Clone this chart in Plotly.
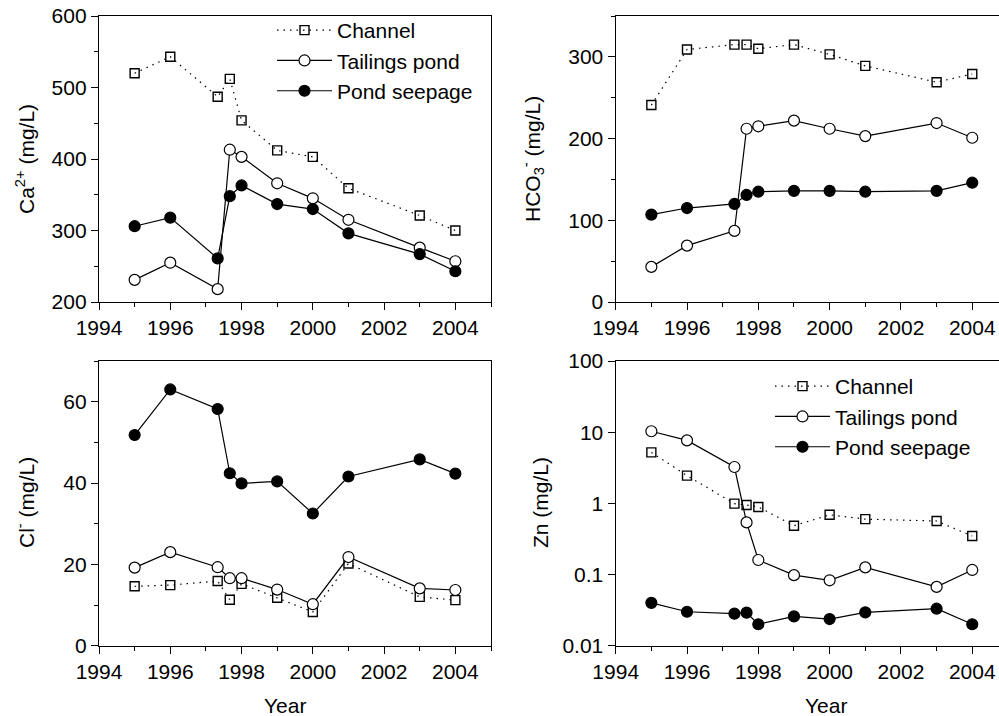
import plotly.graph_objects as go

years = [1995, 1996, 1997.33, 1997.67, 1998, 1999, 2000, 2001, 2003, 2004]

ca_channel = [520, 543, 487, 512, 454, 412, 403, 359, 321, 300]
ca_tailings = [231, 255, 218, 413, 403, 366, 345, 315, 276, 257]
ca_seepage = [306, 318, 261, 348, 363, 337, 330, 296, 267, 243]

hco3_channel = [241, 309, 315, 315, 310, 315, 303, 289, 269, 279]
hco3_tailings = [43, 69, 87, 212, 215, 222, 212, 203, 219, 201]
hco3_seepage = [107, 115, 120, 131, 135, 136, 136, 135, 136, 146]

cl_channel = [14.6, 14.9, 15.9, 11.3, 15.2, 11.8, 8.3, 20.2, 12.0, 11.2]
cl_tailings = [19.2, 23.0, 19.3, 16.6, 16.6, 13.8, 10.2, 21.8, 14.1, 13.7]
cl_seepage = [51.8, 63.0, 58.2, 42.4, 39.9, 40.4, 32.5, 41.6, 45.8, 42.3]

zn_channel = [5.2, 2.45, 0.99, 0.95, 0.89, 0.485, 0.69, 0.60, 0.565, 0.347]
zn_tailings = [10.3, 7.67, 3.24, 0.54, 0.16, 0.098, 0.083, 0.126, 0.067, 0.116]
zn_seepage = [0.040, 0.030, 0.0282, 0.0291, 0.020, 0.0258, 0.0237, 0.0294, 0.0331, 0.020]

series_names = ["Channel", "Tailings pond", "Pond seepage"]
year_ticks = [1994, 1996, 1998, 2000, 2002, 2004]
zn_ticks = [0.01, 0.1, 1, 10, 100]
zn_ticktext = ["0.01", "0.1", "1", "10", "100"]

FONT = "Arial, Liberation Sans, sans-serif"
FS = 21

fig = go.Figure()

panels = [
    ("x", "y", [ca_channel, ca_tailings, ca_seepage], "legend", True),
    ("x2", "y2", [hco3_channel, hco3_tailings, hco3_seepage], None, False),
    ("x3", "y3", [cl_channel, cl_tailings, cl_seepage], None, False),
    ("x4", "y4", [zn_channel, zn_tailings, zn_seepage], "legend2", True),
]

styles = [
    dict(line=dict(color="black", width=1.2, dash="1.5px,5px"),
         marker=dict(symbol="square-open", size=9, color="black", line=dict(width=1.4))),
    dict(line=dict(color="black", width=1.2),
         marker=dict(symbol="circle", size=11, color="white", line=dict(color="black", width=1.2))),
    dict(line=dict(color="black", width=1.2),
         marker=dict(symbol="circle", size=11, color="black", line=dict(color="black", width=1.2))),
]

for xa, ya, data, leg, show in panels:
    for name, vals, st in zip(series_names, data, styles):
        kw = dict(x=years, y=vals, name=name, mode="lines+markers",
                  xaxis=xa, yaxis=ya, showlegend=show, **st)
        if leg:
            kw["legend"] = leg
        fig.add_trace(go.Scatter(**kw))

xl = [99 / 999, 491 / 999]
xr = [615.7 / 999, 1.0]
yt = [1 - 302 / 716, 1 - 16 / 716]
yb = [1 - 645.7 / 716, 1 - 361 / 716]

def xax(dom, rng, anchor):
    return dict(domain=dom, range=rng, anchor=anchor, tickvals=year_ticks,
                ticks="outside", ticklen=7, tickwidth=1.2, tickcolor="black",
                minor=dict(dtick=1, tick0=1994, ticks="outside", ticklen=4,
                           tickwidth=1.2, tickcolor="black"),
                showline=True, linecolor="black", linewidth=1.4, mirror=True,
                showgrid=False, zeroline=False, automargin=False,
                tickfont=dict(family=FONT, size=FS, color="black"))

def yax(dom, anchor, mirror, **extra):
    d = dict(domain=dom, anchor=anchor, ticks="outside", ticklen=7, tickwidth=1.2,
             tickcolor="black", showline=True, linecolor="black", linewidth=1.4,
             mirror=mirror, showgrid=False, zeroline=False, automargin=False,
             tickfont=dict(family=FONT, size=FS, color="black"))
    d.update(extra)
    return d

fig.update_layout(
    width=999, height=716,
    margin=dict(l=0, r=0, t=0, b=0, autoexpand=False),
    paper_bgcolor="white", plot_bgcolor="white",
    font=dict(family=FONT, size=FS, color="black"),
    xaxis=xax(xl, [1994, 2005], "y"),
    xaxis2=xax(xr, [1994, 2004.75], "y2"),
    xaxis3=xax(xl, [1994, 2005], "y3"),
    xaxis4=xax(xr, [1994, 2004.75], "y4"),
    yaxis=yax(yt, "x", True, range=[200, 600], tickvals=[200, 300, 400, 500, 600],
              minor=dict(dtick=50, tick0=200, ticks="outside", ticklen=4, tickwidth=1.2, tickcolor="black")),
    yaxis2=yax(yt, "x2", False, range=[0, 350], tickvals=[0, 100, 200, 300],
               minor=dict(dtick=50, tick0=0, ticks="outside", ticklen=4, tickwidth=1.2, tickcolor="black")),
    yaxis3=yax(yb, "x3", True, range=[0, 70], tickvals=[0, 20, 40, 60],
               minor=dict(dtick=10, tick0=0, ticks="outside", ticklen=4, tickwidth=1.2, tickcolor="black")),
    yaxis4=yax(yb, "x4", False, type="log", range=[-2, 2], tickvals=zn_ticks, ticktext=zn_ticktext),
    legend=dict(x=272 / 999, y=1 - 10 / 716, xanchor="left", yanchor="top",
                bgcolor="rgba(0,0,0,0)", font=dict(family=FONT, size=FS),
                itemwidth=55, tracegroupgap=0),
    legend2=dict(x=770 / 999, y=1 - 366 / 716, xanchor="left", yanchor="top",
                 bgcolor="rgba(0,0,0,0)", font=dict(family=FONT, size=FS),
                 itemwidth=55, tracegroupgap=0),
    showlegend=True,
)

titles = [
    (25, 159, "Ca<sup>2+</sup> (mg/L)"),
    (533, 159, "HCO<sub>3</sub><sup>-</sup> (mg/L)"),
    (25, 503, "Cl<sup>-</sup> (mg/L)"),
    (540, 503, "Zn (mg/L)"),
]
for px, py, txt in titles:
    fig.add_annotation(x=px / 999, y=1 - py / 716, xref="paper", yref="paper",
                       text=txt, textangle=-90, showarrow=False,
                       xanchor="center", yanchor="middle",
                       font=dict(family=FONT, size=FS, color="black"))

for px in [285, 826]:
    fig.add_annotation(x=px / 999, y=1 - 705 / 716, xref="paper", yref="paper",
                       text="Year", showarrow=False, xanchor="center", yanchor="middle",
                       font=dict(family=FONT, size=FS, color="black"))

fig.write_html(
    "out.html",
    config={"displayModeBar": False},
    post_script="document.body.style.margin='0';document.body.style.padding='0';"
                "document.body.style.overflow='hidden';",
)
